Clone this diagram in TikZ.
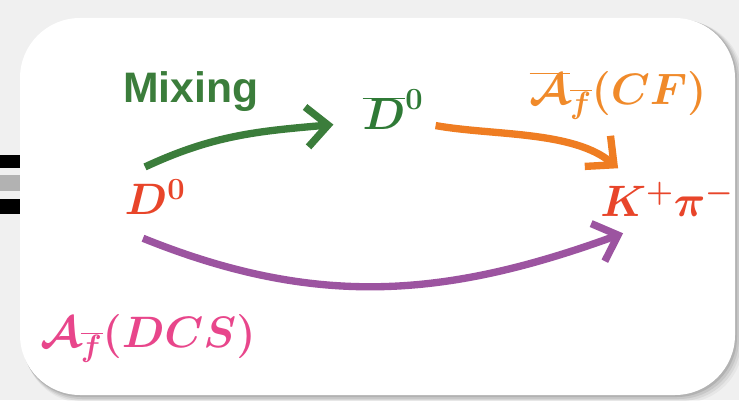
\RequirePackage{fix-cm}
\documentclass[tikz,border=0pt]{standalone}
\usepackage{fontspec}
\newfontfamily\mixfont{Liberation Sans}
\usetikzlibrary{arrows.meta}

\definecolor{mixgreen}{HTML}{3B7D3B}
\definecolor{dgreen}{HTML}{2F7A36}
\definecolor{cforange}{HTML}{F08A2A}
\definecolor{arrorange}{HTML}{EF7D22}
\definecolor{kred}{HTML}{E8452A}
\definecolor{dcspurple}{HTML}{9C54A0}
\definecolor{dcspink}{HTML}{E8468B}

\tikzset{
  lbl/.style={inner sep=0pt, anchor=base, font=\fontsize{33}{40}\selectfont\boldmath},
  flow/.style={line width=5.5pt, -{Straight Barb[length=16pt,width=30pt]}},
}

\begin{document}
\begin{tikzpicture}[x=0.75pt,y=0.75pt]
\useasboundingbox (0,0) rectangle (739,400);
\fill[black!6] (0,0) rectangle (739,400);
% bars of the sign cut off on the left
\fill[black] (0,232) rectangle (22,245);
\fill[black!30] (0,209) rectangle (22,225);
\fill[black] (0,186) rectangle (22,201);
% soft shadow, then the card
\foreach \o/\a in {8/0.04,6/0.06,4/0.08,2/0.1}
  \fill[black,opacity=\a,rounded corners=45] (20+\o/2,5-\o) rectangle (735+\o,382-\o/3);
\fill[white,rounded corners=45] (20,5) rectangle (735,382);

\node[lbl, text=mixgreen, font=\fontsize{32}{38}\mixfont\bfseries] (mix) at (191,297) {Mixing};
\node[lbl, text=dgreen] (dbar) at (393,270) {$\overline{D}^0$};
\node[lbl, text=cforange] (cf) at (618,295) {$\overline{\mathcal{A}}_{\overline{f}}(CF)$};
\node[lbl, text=kred] (d0) at (155,185) {$D^0$};
\node[lbl, text=kred] (kpi) at (667,183) {$K^+\pi^-$};
\node[lbl, text=dcspink] (dcs) at (148,52) {$\mathcal{A}_{\overline{f}}(DCS)$};

\draw[flow, mixgreen] ([shift={(-10,12)}]d0.north) to[out=25,in=185] ([shift={(-29,-15)}]dbar.west);
\draw[flow, arrorange] ([shift={(12,-16)}]dbar.east) to[out=-10,in=140,looseness=0.8] ([shift={(18,13)}]kpi.north west);
\draw[flow, dcspurple] ([shift={(-12,-23)}]d0.south) to[out=-22,in=200] ([shift={(23,-16)}]kpi.south west);
\end{tikzpicture}
\end{document}
